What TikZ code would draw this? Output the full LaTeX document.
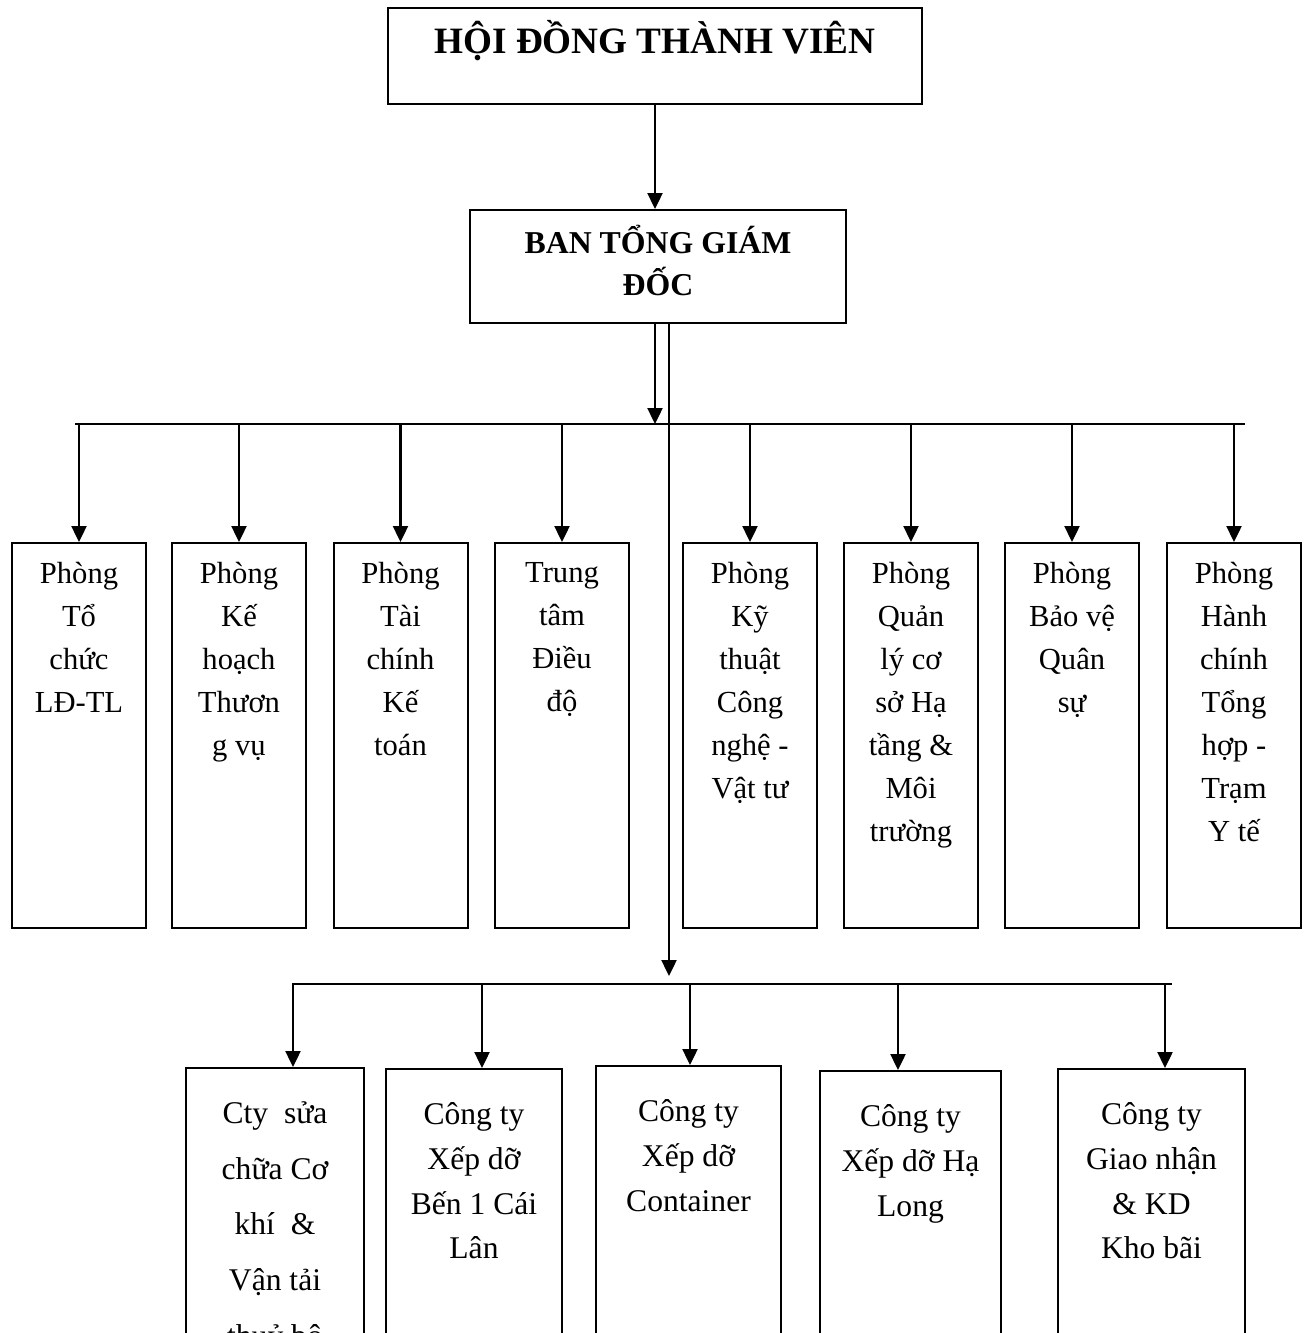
\documentclass[tikz,border=0pt]{standalone}
\usepackage{fontspec}
\setmainfont{Liberation Serif}
\usetikzlibrary{arrows.meta,positioning}

\begin{document}
\begin{tikzpicture}[
  x=0.5pt, y=-0.5pt, >={Triangle[width=7.5pt,length=8pt]},
  box/.style={draw, line width=1pt, inner sep=0pt},
  dept/.style={box, minimum width=67pt, minimum height=192.5pt},
  unit/.style={box, minimum height=150pt},
  headtext/.style={anchor=north, inner sep=0pt, align=center,
                   font=\fontsize{15.9}{21}\selectfont\bfseries},
  depttext/.style={anchor=north, inner sep=0pt, align=center,
                   font=\fontsize{15.3}{21.5}\selectfont},
  unittext/.style={anchor=north, inner sep=0pt, align=center,
                   font=\fontsize{15.8}{22.4}\selectfont},
  link/.style={->, line width=1.2pt},
  bus/.style={line width=1.1pt},
]
\useasboundingbox (0,0) rectangle (1307,1333);
\clip (0,0) rectangle (1307,1333);

\node[box, minimum width=267pt, minimum height=48pt] (hdtv) at (655,56) {};
\node[inner sep=0pt, font=\fontsize{18.6}{22}\selectfont\bfseries,
      below=23.5pt of hdtv.north, anchor=base] (hdtvt) {HỘI ĐỒNG THÀNH VIÊN};
\node[box, minimum width=188pt, minimum height=56.5pt] (btgd) at (658,266.5) {};
\node[headtext, below=7.7pt of btgd.north] (btgdt) {BAN TỔNG GIÁM\\ĐỐC};

\coordinate (bus1L) at (75,424);
\coordinate (bus1R) at (1245,424);
\coordinate (bus2L) at (292,984);
\coordinate (bus2R) at (1172,984);

% Phong ban
\node[dept] (p1) at (79,735.5) {};
\node[dept] (p2) at (239,735.5) {};
\node[dept] (p3) at (400.5,735.5) {};
\node[dept] (p4) at (562,735.5) {};
\node[dept] (p5) at (750,735.5) {};
\node[dept] (p6) at (911,735.5) {};
\node[dept] (p7) at (1072,735.5) {};
\node[dept] (p8) at (1234,735.5) {};
\node[depttext, below=10pt of p1.north] (p1t) {Phòng\\Tổ\\chức\\LĐ-TL};
\node[depttext, below=10pt of p2.north] (p2t) {Phòng\\Kế\\hoạch\\Thươn\\g vụ};
\node[depttext, below=10pt of p3.north] (p3t) {Phòng\\Tài\\chính\\Kế\\toán};
\node[depttext, below=10pt of p4.north] (p4t) {Trung\\tâm\\Điều\\độ};
\node[depttext, below=10pt of p5.north] (p5t) {Phòng\\Kỹ\\thuật\\Công\\nghệ -\\Vật tư};
\node[depttext, below=10pt of p6.north] (p6t) {Phòng\\Quản\\lý cơ\\sở Hạ\\tầng \&\\Môi\\trường};
\node[depttext, below=10pt of p7.north] (p7t) {Phòng\\Bảo vệ\\Quân\\sự};
\node[depttext, below=10pt of p8.north] (p8t) {Phòng\\Hành\\chính\\Tổng\\hợp -\\Trạm\\Y tế};

% Cong ty
\node[unit, minimum width=89pt] (c1) at (275,1218) {};
\node[unit, minimum width=88pt] (c2) at (474,1219) {};
\node[unit, minimum width=92.5pt] (c3) at (688.5,1216) {};
\node[unit, minimum width=90.5pt] (c4) at (910.5,1221) {};
\node[unit, minimum width=93.5pt] (c5) at (1151.5,1219) {};
\node[unittext, font=\fontsize{15.8}{27.9}\selectfont, below=17pt of c1.north]
  (c1t) {Cty\ \ sửa\\chữa Cơ\\khí\ \ \&\\Vận tải\\thuỷ bộ};
\node[unittext, below=17pt of c2.north] (c2t) {Công ty\\Xếp dỡ\\Bến 1 Cái\\Lân};
\node[unittext, below=17pt of c3.north] (c3t) {Công ty\\Xếp dỡ\\Container};
\node[unittext, below=17pt of c4.north] (c4t) {Công ty\\Xếp dỡ Hạ\\Long};
\node[unittext, below=17pt of c5.north] (c5t) {Công ty\\Giao nhận\\\& KD\\Kho bãi};

\draw[link] (hdtv.south) -- (hdtv.south |- btgd.north);
\draw[link] ([xshift=-1.5pt]btgd.south) -- ([xshift=-1.5pt]btgd.south |- bus1L);
\draw[link, shorten >=4pt] ([xshift=5.5pt]btgd.south) -- ([xshift=5.5pt]btgd.south |- bus2L);

\draw[bus] (bus1L) -- (bus1R);
\draw[bus] (bus2L) -- (bus2R);

\draw[link] (p1.north |- bus1L) -- (p1.north);
\draw[link] (p2.north |- bus1L) -- (p2.north);
\draw[link] (p3.north |- bus1L) -- (p3.north);
\draw[link] (p4.north |- bus1L) -- (p4.north);
\draw[link] (p5.north |- bus1L) -- (p5.north);
\draw[link] (p6.north |- bus1L) -- (p6.north);
\draw[link] (p7.north |- bus1L) -- (p7.north);
\draw[link] (p8.north |- bus1L) -- (p8.north);

\draw[link] ([xshift=9pt]c1.north |- bus2L) -- ([xshift=9pt]c1.north);
\draw[link] ([xshift=4pt]c2.north |- bus2L) -- ([xshift=4pt]c2.north);
\draw[link] ([xshift=0.75pt]c3.north |- bus2L) -- ([xshift=0.75pt]c3.north);
\draw[link] ([xshift=-6.25pt]c4.north |- bus2L) -- ([xshift=-6.25pt]c4.north);
\draw[link] ([xshift=6.75pt]c5.north |- bus2L) -- ([xshift=6.75pt]c5.north);
\end{tikzpicture}
\end{document}
